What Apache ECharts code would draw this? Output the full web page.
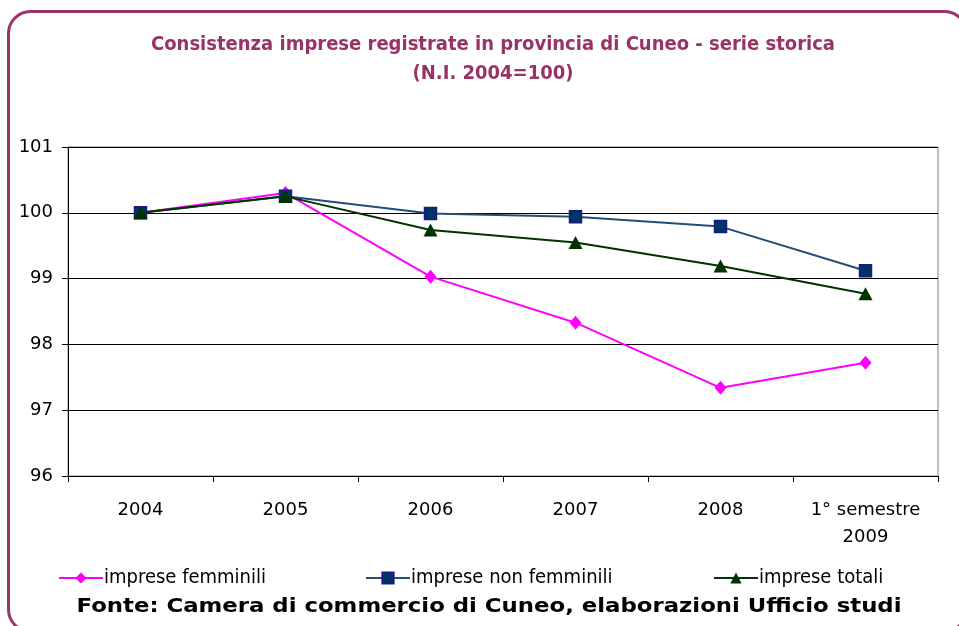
<!DOCTYPE html>
<html>
<head>
<meta charset="utf-8">
<script src="https://cdn.jsdelivr.net/npm/echarts@6/dist/echarts.min.js"></script>
<style>html,body{margin:0;padding:0;background:#fff}#c{width:959px;height:626px}</style>
</head>
<body>
<div id="c"></div>
<script>
const categories = ['2004', '2005', '2006', '2007', '2008', '1° semestre\n2009'];
const femminili = [100, 100.30, 99.03, 98.33, 97.34, 97.72];
const nonFemminili = [100, 100.25, 99.99, 99.94, 99.79, 99.12];
const totali = [100, 100.25, 99.74, 99.55, 99.19, 98.77];
const seriesNames = ['imprese femminili', 'imprese non femminili', 'imprese totali'];
const yTicks = [96, 97, 98, 99, 100, 101];

const chart = echarts.init(document.getElementById('c'), null, {renderer: 'canvas'});
const font = 'DejaVu Sans';
const legendText = {fontFamily: 'DejaVu Sans Condensed', fontSize: 20, color: '#000', padding: [0, 0, 0, -4]};
const legendPos = [58, 365, 713];
chart.setOption({
  animation: false,
  backgroundColor: '#fff',
  title: {
    text: 'Consistenza imprese registrate in provincia di Cuneo - serie storica\n(N.I. 2004=100)',
    left: 488, top: 25, textAlign: 'center',
    textStyle: {fontFamily: 'DejaVu Sans Condensed', fontWeight: 'bold', fontSize: 20, color: '#993366', lineHeight: 29}
  },
  graphic: [
    {type: 'rect', shape: {x: 8.5, y: 11.5, width: 958, height: 620, r: 22}, style: {fill: 'none', stroke: '#9c3468', lineWidth: 3}, z: 100},
    {type: 'text', x: 489, y: 607, scaleX: 1.2, style: {text: 'Fonte: Camera di commercio di Cuneo, elaborazioni Ufficio studi', font: 'bold 19px "DejaVu Sans"', fill: '#000', align: 'center', verticalAlign: 'middle'}}
  ],
  legend: seriesNames.map((n, i) => ({
    left: legendPos[i], top: 568, padding: 0, itemWidth: 44, itemHeight: 14,
    textStyle: legendText, data: [n]
  })),
  grid: {left: 68, right: 21, top: 147, bottom: 150, show: true, borderColor: '#808080', borderWidth: 1},
  xAxis: {
    type: 'category', data: categories, boundaryGap: true,
    axisLine: {lineStyle: {color: '#000', width: 1}},
    axisTick: {show: true, alignWithLabel: false, length: 6, lineStyle: {color: '#000'}},
    axisLabel: {fontFamily: font, fontSize: 18, color: '#000', margin: 21, lineHeight: 27, interval: 0},
    splitLine: {show: false}
  },
  yAxis: {
    type: 'value', min: yTicks[0], max: yTicks[yTicks.length - 1], interval: 1,
    axisLine: {show: true, lineStyle: {color: '#000'}},
    axisTick: {show: true, length: 6, lineStyle: {color: '#000'}},
    axisLabel: {fontFamily: font, fontSize: 18, color: '#000', margin: 15},
    splitLine: {show: true, lineStyle: {color: '#000', width: 1}}
  },
  series: [
    {name: seriesNames[0], type: 'line', data: femminili, symbol: 'diamond', symbolSize: [12, 14],
     itemStyle: {color: '#ff00ff'}, lineStyle: {color: '#ff00ff', width: 2}, z: 3},
    {name: seriesNames[1], type: 'line', data: nonFemminili, symbol: 'rect', symbolSize: 12,
     itemStyle: {color: '#003366', borderColor: '#1a1a80', borderWidth: 1.5}, lineStyle: {color: '#1f4e79', width: 2}, z: 4},
    {name: seriesNames[2], type: 'line', data: totali, symbol: 'triangle', symbolSize: [14, 13],
     itemStyle: {color: '#003300'}, lineStyle: {color: '#003300', width: 2}, z: 5}
  ]
});
</script>
</body>
</html>
